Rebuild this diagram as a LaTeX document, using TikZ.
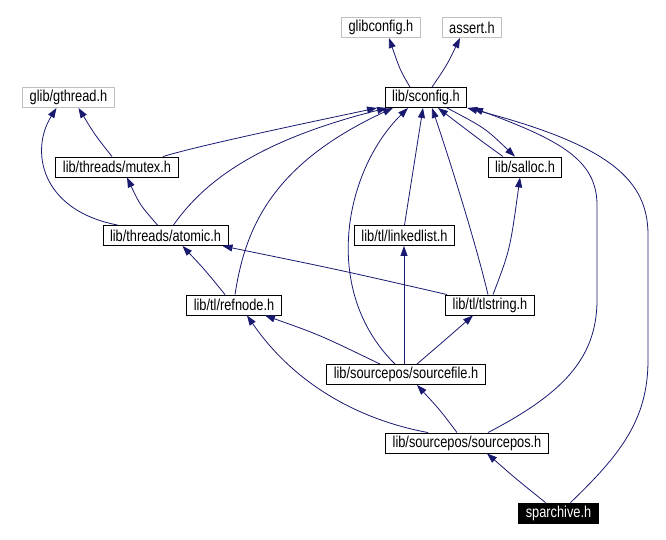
\documentclass[tikz,border=0pt]{standalone}
\usepackage{fontspec}
\setmainfont{Liberation Sans}[FakeStretch=0.81]
\usetikzlibrary{arrows.meta}
\definecolor{edgeblue}{HTML}{191970}
\definecolor{extgray}{HTML}{BFBFBF}

\begin{document}
\begin{tikzpicture}[x=1pt,y=-1pt,
		file/.style={draw=black,line width=0.9pt,minimum height=20pt,inner xsep=7pt,inner ysep=1.5pt,
			font=\fontsize{15.8}{17}\selectfont},
		extfile/.style={file,draw=extgray},
		mainfile/.style={file,fill=black,text=white},
		inc/.style={draw=edgeblue,line width=0.8pt,-{Triangle[length=10pt,width=7pt]}}]
			\useasboundingbox (0,0) rectangle (666,540);
			\node[extfile] (glibconfig) at (381,27.5) {glibconfig.h};
			\node[extfile] (assert) at (472,27.5) {assert.h};
			\node[file] (sconfig) at (426,97.5) {lib/sconfig.h};
			\node[extfile] (gthread) at (68.5,97.5) {glib/gthread.h};
			\node[file] (mutex) at (117,167) {lib/threads/mutex.h};
			\node[file] (salloc) at (525,167) {lib/salloc.h};
			\node[file] (atomic) at (165.5,235.5) {lib/threads/atomic.h};
			\node[file] (linkedlist) at (404.5,235.5) {lib/tl/linkedlist.h};
			\node[file] (refnode) at (234,305) {lib/tl/refnode.h};
			\node[file] (tlstring) at (490,305) {lib/tl/tlstring.h};
			\node[file] (sourcefile) at (406,374.5) {lib/sourcepos/sourcefile.h};
			\node[file] (sourcepos) at (467,443) {lib/sourcepos/sourcepos.h};
			\node[mainfile] (sparchive) at (558.5,513) {sparchive.h};

			\draw[inc] ([xshift=-16]sconfig.north) .. controls (400,70) .. ([xshift=8]glibconfig.south);
			\draw[inc] ([xshift=6]sconfig.north) .. controls (447,65) .. ([xshift=-12]assert.south);
			\draw[inc] ([xshift=-5]mutex.north) .. controls (95,135) .. ([xshift=10]gthread.south);
			\draw[inc] ([xshift=-48]atomic.north) .. controls (40,210) and (30,150) .. ([xshift=-12]gthread.south);
			\draw[inc] ([xshift=-8]atomic.north) .. controls (140,205) .. ([xshift=10]mutex.south);
			\draw[inc] ([xshift=46]mutex.north) .. controls (200,145) and (330,118) .. ([xshift=-49]sconfig.south);
			\draw[inc] ([xshift=8]atomic.north) .. controls (205,180) and (260,140) .. ([xshift=-39]sconfig.south);
			\draw[inc] ([xshift=1]refnode.north) .. controls (245,230) and (270,165) .. ([xshift=-33]sconfig.south);
			\draw[inc] ([xshift=-11]sourcefile.north) .. controls (320,290) and (345,170) .. ([xshift=-18]sconfig.south);
			\draw[inc] ([xshift=0]linkedlist.north) .. controls (410,190) .. ([xshift=-3]sconfig.south);
			\draw[inc] ([xshift=-2]tlstring.north) .. controls (475,240) and (448,155) .. ([xshift=6]sconfig.south);
			\draw[inc] ([xshift=-22]salloc.north) .. controls (480,140) .. ([xshift=12]sconfig.south);
			\draw[inc] ([xshift=21]sconfig.south) .. controls (485,128) .. ([xshift=-10]salloc.north);
			\draw[inc] ([xshift=21]sourcepos.north) .. controls (560,395) and (597,360) .. (597,300)
				-- (597,205) .. controls (597,160) and (560,140) .. ([xshift=47]sconfig.south);
			\draw[inc] ([xshift=12]sparchive.north) .. controls (620,455) and (648,420) .. (648,360)
				-- (648,235) .. controls (648,180) and (610,145) .. (sconfig.south east);
			\draw[inc] ([xshift=3]tlstring.north) .. controls (510,250) .. ([xshift=-5]salloc.south);
			\draw[inc] ([xshift=-9]refnode.north) .. controls (205,270) .. ([xshift=17]atomic.south);
			\draw[inc] ([xshift=-43]tlstring.north) .. controls (340,270) .. ([xshift=57]atomic.south);
			\draw[inc] ([xshift=-2]sourcefile.north) -- ([xshift=-0.5]linkedlist.south);
			\draw[inc] ([xshift=-26]sourcefile.north) .. controls (320,335) .. ([xshift=31]refnode.south);
			\draw[inc] ([xshift=11]sourcefile.north) .. controls (445,340) .. ([xshift=-17]tlstring.south);
			\draw[inc] ([xshift=-39]sourcepos.north) .. controls (360,420) and (295,385) .. ([xshift=13]refnode.south);
			\draw[inc] ([xshift=-10]sourcepos.north) .. controls (440,410) .. ([xshift=11]sourcefile.south);
			\draw[inc] ([xshift=-13]sparchive.north) .. controls (515,478) .. ([xshift=20]sourcepos.south);
		\end{tikzpicture}
\end{document}
